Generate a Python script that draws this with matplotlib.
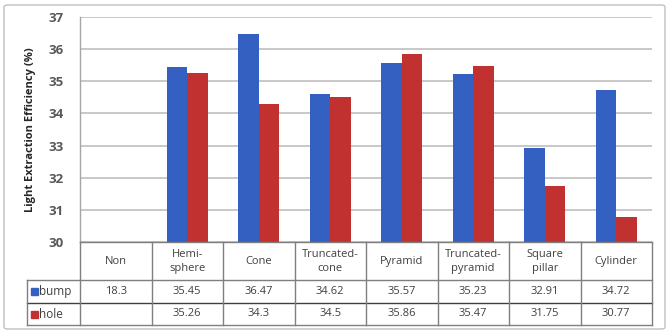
import matplotlib
matplotlib.use("Agg")
import matplotlib.pyplot as plt
from matplotlib.patches import FancyBboxPatch, Rectangle
import numpy as np

plt.rcParams['font.family'] = ['Open Sans', 'DejaVu Sans']

categories = ["Non", "Hemi-\nsphere", "Cone", "Truncated-\ncone", "Pyramid",
              "Truncated-\npyramid", "Square\npillar", "Cylinder"]
bump = [18.3, 35.45, 36.47, 34.62, 35.57, 35.23, 32.91, 34.72]
hole = [None, 35.26, 34.3, 34.5, 35.86, 35.47, 31.75, 30.77]
bump_labels = ["18.3", "35.45", "36.47", "34.62", "35.57", "35.23", "32.91", "34.72"]
hole_labels = ["", "35.26", "34.3", "34.5", "35.86", "35.47", "31.75", "30.77"]
series_names = ["bump", "hole"]
yticks = [30, 31, 32, 33, 34, 35, 36, 37]

BLUE = "#3461C1"
RED = "#C0312F"
TXT = "#404040"
W, H = 671, 333

fig = plt.figure(figsize=(W / 100, H / 100), dpi=100)

# outer frame
fig.patches.append(FancyBboxPatch((4 / W, 4 / H), 661 / W, 324 / H,
                                  boxstyle="round,pad=0,rounding_size=0.006",
                                  transform=fig.transFigure, fc="none",
                                  ec="#BFBFBF", lw=1.0, zorder=-10))

L, R, T, B = 80, 652, 17, 242
ax = fig.add_axes([L / W, (H - B) / H, (R - L) / W, (B - T) / H])
ax.set_facecolor("none")
n = len(categories)
x = np.arange(n)
bw = 0.29
ax.bar(x - bw / 2, [v if v is not None else np.nan for v in bump], bw,
       color=BLUE, zorder=3)
ax.bar(x + bw / 2, [v if v is not None else np.nan for v in hole], bw,
       color=RED, zorder=3)
ax.set_xlim(-0.5, n - 0.5)
ax.set_ylim(30, 37)
ax.set_yticks(yticks)
ax.set_yticklabels([str(t) for t in yticks], fontsize=9.5, fontweight="bold",
                   color="#595959")
ax.tick_params(axis="y", length=0, pad=12)
ax.set_xticks([])
ax.yaxis.grid(True, color="#BFBFBF", lw=1.2, zorder=0)
for s in ["top", "right", "bottom"]:
    ax.spines[s].set_visible(False)
ax.spines["left"].set_color("#A6A6A6")
ax.spines["left"].set_linewidth(1.0)
fig.text(31 / W, (H - 130) / H, "Light Extraction Efficiency (%)", rotation=90,
         ha="center", va="center", fontsize=8, fontweight="bold", color="#262626")

# data table
tax = fig.add_axes([0, 0, 1, 1])
tax.set_xlim(0, W)
tax.set_ylim(H, 0)
tax.axis("off")
colw = (R - L) / n
r0, r1, r2, r3 = 242, 280, 303, 325
lc = "#7F7F7F"
tax.plot([L, R], [r0, r0], color=lc, lw=1.0)
tax.plot([27, R], [r1, r1], color=lc, lw=1.0)
tax.plot([27, R], [r2, r2], color="#404040", lw=1.0)
tax.plot([27, R], [r3, r3], color=lc, lw=1.0)
tax.plot([27, 27], [r1, r3], color=lc, lw=1.0)
for i in range(n + 1):
    xx = L + i * colw
    tax.plot([xx, xx], [r0, r3], color=lc, lw=1.0)
for i, c in enumerate(categories):
    cx = L + (i + 0.5) * colw
    tax.text(cx, (r0 + r1) / 2 + 0.5, c, ha="center", va="center", fontsize=8,
             color=TXT, linespacing=1.35)
    tax.text(cx, (r1 + r2) / 2, bump_labels[i], ha="center", va="center",
             fontsize=8, color=TXT)
    tax.text(cx, (r2 + r3) / 2, hole_labels[i], ha="center", va="center",
             fontsize=8, color=TXT)
for (ya, yb), col, name in [((r1, r2), BLUE, series_names[0]),
                            ((r2, r3), RED, series_names[1])]:
    ym = (ya + yb) / 2
    tax.add_patch(Rectangle((31, ym - 3.5), 7, 7, color=col))
    tax.text(39, ym, name, ha="left", va="center", fontsize=8.5, color=TXT)

fig.savefig("out.png", dpi=100)
